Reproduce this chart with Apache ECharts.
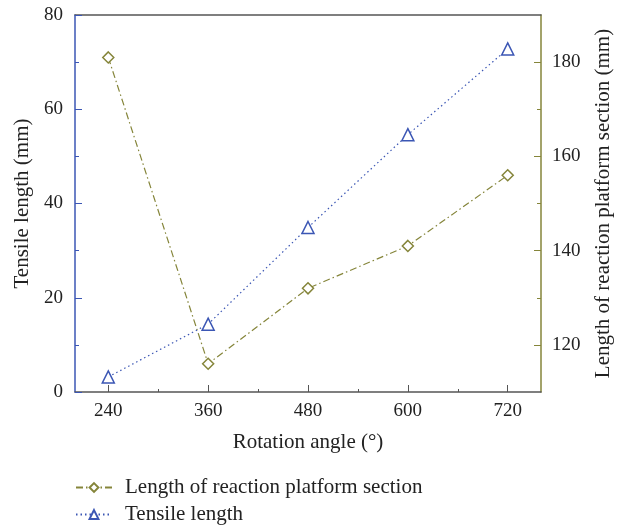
<!DOCTYPE html>
<html>
<head>
<meta charset="utf-8">
<script src="https://cdn.jsdelivr.net/npm/echarts@6/dist/echarts.min.js"></script>
<style>
  html, body { margin: 0; padding: 0; background: #fff; }
  #chart { width: 622px; height: 529px; }
</style>
</head>
<body>
<div id="chart"></div>
<script>
// rotation angle (deg)
const angles = [240, 360, 480, 600, 720];
// right axis series: length of reaction platform section (mm)
const platformLen = [181, 116, 132, 141, 156];
// left axis series: tensile length (mm)
const tensileLen = [3.2, 14.4, 34.9, 54.6, 72.8];

const xMajor = [240, 360, 480, 600, 720];
const xMinor = [300, 420, 540, 660];
const rMajor = [120, 140, 160, 180];
const rMinor = [130, 150, 170];

const BLUE = '#3b56b4';
const OLIVE = '#85853a';
const DARK = '#555555';
const FONT = 'Liberation Serif';

const chart = echarts.init(document.getElementById('chart'));

const txt = { fontFamily: FONT, fontSize: 21, color: '#222' };
const tick = { fontFamily: FONT, fontSize: 19, color: '#222' };

chart.setOption({
    animation: false,
    textStyle: { fontFamily: FONT },
    grid: { left: 75, right: 80, top: 15, bottom: 137 },
    legend: {
        orient: 'vertical',
        left: 75, top: 477, padding: 0,
        itemWidth: 36, itemHeight: 11, itemGap: 6,
        textStyle: { ...txt, padding: [0, 0, 0, 8] },
        data: ['Length of reaction platform section', 'Tensile length']
    },
    xAxis: [
        {
            type: 'value', min: 200, max: 760,
            name: 'Rotation angle (°)', nameLocation: 'middle', nameGap: 40,
            nameTextStyle: txt,
            axisLine: { lineStyle: { color: DARK, width: 1.5 } },
            axisTick: { inside: true, length: 7, customValues: xMajor, lineStyle: { color: DARK } },
            axisLabel: { customValues: xMajor, margin: 10, ...tick },
            splitLine: { show: false }
        },
        {
            type: 'value', min: 200, max: 760, position: 'bottom',
            axisLine: { show: false },
            axisTick: { inside: true, length: 3, customValues: xMinor, lineStyle: { color: DARK } },
            axisLabel: { show: false },
            splitLine: { show: false }
        },
        {
            type: 'value', min: 200, max: 760, position: 'top',
            axisLine: { lineStyle: { color: DARK, width: 1.5 } },
            axisTick: { show: false }, axisLabel: { show: false },
            splitLine: { show: false }
        }
    ],
    yAxis: [
        {
            type: 'value', min: 0, max: 80, interval: 20, position: 'left',
            name: 'Tensile length (mm)', nameLocation: 'middle', nameGap: 42,
            nameTextStyle: txt,
            axisLine: { show: true, lineStyle: { color: BLUE, width: 1.5 } },
            axisTick: { inside: true, length: 7, lineStyle: { color: BLUE } },
            minorTick: { show: true, splitNumber: 2, length: 4, lineStyle: { color: BLUE } },
            axisLabel: { margin: 12, ...tick },
            splitLine: { show: false }
        },
        {
            type: 'value', min: 110, max: 190, position: 'right',
            name: 'Length of reaction platform section (mm)', nameLocation: 'middle', nameGap: 52,
            nameRotate: 90,
            nameTextStyle: txt,
            axisLine: { show: true, lineStyle: { color: OLIVE, width: 1.5 } },
            axisTick: { inside: true, length: 7, customValues: rMajor, lineStyle: { color: OLIVE } },
            axisLabel: { customValues: rMajor, margin: 11, ...tick },
            splitLine: { show: false }
        },
        {
            type: 'value', min: 110, max: 190, position: 'right',
            axisLine: { show: false },
            axisTick: { inside: true, length: 4, customValues: rMinor, lineStyle: { color: OLIVE } },
            axisLabel: { show: false },
            splitLine: { show: false }
        }
    ],
    series: [
        {
            name: 'Length of reaction platform section',
            type: 'line', yAxisIndex: 1,
            data: angles.map((a, i) => [a, platformLen[i]]),
            symbol: 'diamond', symbolSize: 11,
            itemStyle: { color: '#fff', borderColor: OLIVE, borderWidth: 1.5 },
            lineStyle: { color: OLIVE, width: 1.2, type: [7, 3, 1.5, 3] }
        },
        {
            name: 'Tensile length',
            type: 'line', yAxisIndex: 0,
            data: angles.map((a, i) => [a, tensileLen[i]]),
            symbol: 'triangle', symbolSize: 12,
            itemStyle: { color: '#fff', borderColor: BLUE, borderWidth: 1.5 },
            lineStyle: { color: BLUE, width: 1.2, type: [1.5, 3] }
        }
    ]
});
</script>
</body>
</html>
